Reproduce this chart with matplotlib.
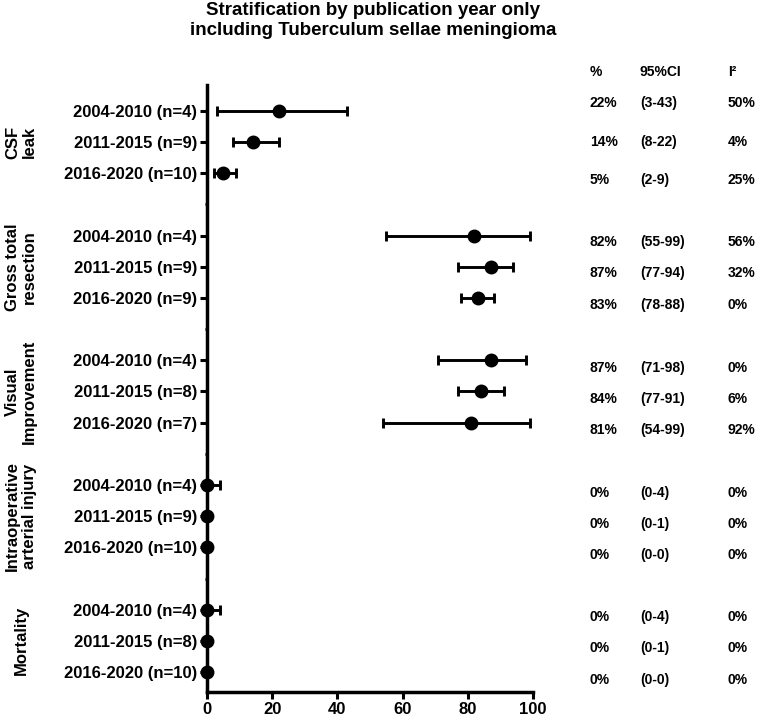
"""
Forest plot: stratification by publication year (Tuberculum sellae meningioma)
"""

import matplotlib
matplotlib.use('Agg')
import matplotlib.pyplot as plt
from matplotlib.transforms import blended_transform_factory

plt.rcParams['font.family'] = ['Liberation Sans', 'DejaVu Sans']

# data
groups = ['CSF\nleak', 'Gross total\nresection', 'Visual\nImprovement',
          'Intraoperative\narterial injury', 'Mortality']
row_labels = [
    '2004-2010 (n=4)', '2011-2015 (n=9)', '2016-2020 (n=10)',
    '2004-2010 (n=4)', '2011-2015 (n=9)', '2016-2020 (n=9)',
    '2004-2010 (n=4)', '2011-2015 (n=8)', '2016-2020 (n=7)',
    '2004-2010 (n=4)', '2011-2015 (n=9)', '2016-2020 (n=10)',
    '2004-2010 (n=4)', '2011-2015 (n=8)', '2016-2020 (n=10)',
]
estimate = [22, 14, 5, 82, 87, 83, 87, 84, 81, 0, 0, 0, 0, 0, 0]
ci_low = [3, 8, 2, 55, 77, 78, 71, 77, 54, 0, 0, 0, 0, 0, 0]
ci_high = [43, 22, 9, 99, 94, 88, 98, 91, 99, 4, 1, 0, 4, 1, 0]
i2 = [50, 4, 25, 56, 32, 0, 0, 6, 92, 0, 0, 0, 0, 0, 0]
x_ticks = [0, 20, 40, 60, 80, 100]

# layout: row slots (one empty slot between groups)
rows_per_group = 3
slots = [g * (rows_per_group + 1) + r for g in range(len(groups)) for r in range(rows_per_group)]
gap_slots = [g * (rows_per_group + 1) + rows_per_group for g in range(len(groups) - 1)]
stat_text_y_px = [103, 142, 180, 242, 273, 305, 368, 399, 430, 493, 524, 555, 617, 648, 680]

W, H = 762, 724
fig = plt.figure(figsize=(W / 100, H / 100), dpi=100)
ax = fig.add_axes([207 / W, 1 - 692 / H, (533 - 207) / W, (692 - 85) / H])

err = [[e - lo for e, lo in zip(estimate, ci_low)],
       [hi - e for e, hi in zip(estimate, ci_high)]]
ax.errorbar(estimate, slots, xerr=err, fmt='o', color='black', ms=9,
            elinewidth=2.1, capsize=3.6, capthick=2.1, clip_on=False, zorder=5)

ax.set_xlim(0, 100)
ax.set_ylim(18.64, -0.83)
ax.set_xticks(x_ticks)
ax.set_xticklabels([str(t) for t in x_ticks], fontsize=12, fontweight='bold')
ax.set_yticks(slots)
ax.set_yticklabels(row_labels, fontsize=12, fontweight='bold')
ax.set_yticks(gap_slots, minor=True)
ax.tick_params(axis='both', which='major', length=5, width=2.2, pad=2)
ax.tick_params(axis='y', which='minor', length=1.5, width=2)
for side in ['top', 'right']:
    ax.spines[side].set_visible(False)
for side in ['left', 'bottom']:
    ax.spines[side].set_linewidth(2.5)

# group labels, centred on middle row of each group
label_tr = blended_transform_factory(fig.transFigure, ax.transData)
for g, name in enumerate(groups):
    mid = slots[g * rows_per_group + 1]
    ax.text(21 / W, mid, name, transform=label_tr, rotation=90,
            ha='center', va='center', fontsize=12, fontweight='bold',
            linespacing=1.15)

# stats columns
col_x = [590, 640, 728]
headers = ['%', '95%CI', 'I²']
for x, h in zip(col_x, headers):
    fig.text(x / W, 1 - 72 / H, h, ha='left', va='center', fontsize=10, fontweight='bold')
for i in range(len(estimate)):
    y = 1 - stat_text_y_px[i] / H
    fig.text(col_x[0] / W, y, f'{estimate[i]}%', ha='left', va='center', fontsize=10, fontweight='bold')
    fig.text(col_x[1] / W, y, f'({ci_low[i]}-{ci_high[i]})', ha='left', va='center', fontsize=10, fontweight='bold')
    fig.text(col_x[2] / W, y, f'{i2[i]}%', ha='left', va='center', fontsize=10, fontweight='bold')

fig.text(373 / W, 1 - 2 / H,
         'Stratification by publication year only\nincluding Tuberculum sellae meningioma',
         ha='center', va='top', fontsize=13.5, fontweight='bold', linespacing=1.2)

fig.savefig('out.png', dpi=100)
